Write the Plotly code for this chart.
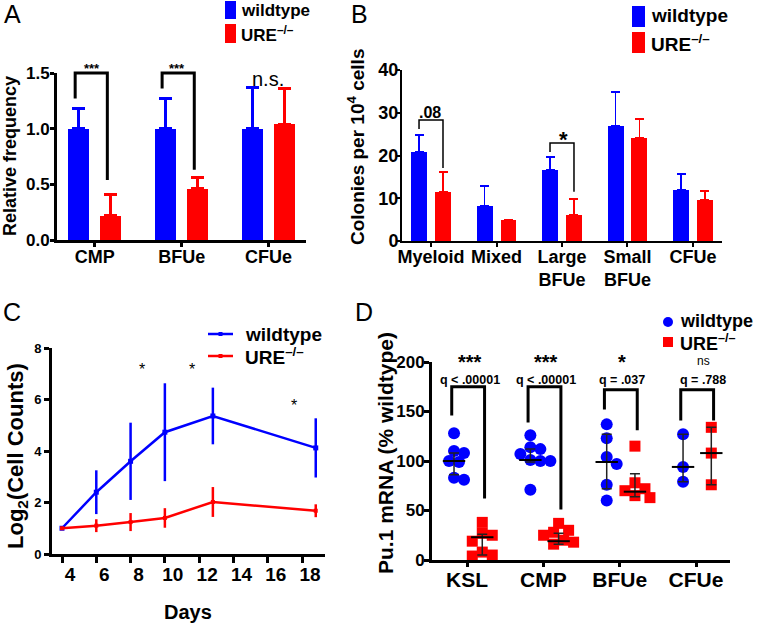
import plotly.graph_objects as go

W, H = 762, 625
BLUE = "#0000ff"
RED = "#ff0000"
FONT = "Liberation Sans"

# ---------------- data ----------------
# A: relative frequency
a_cats = ["CMP", "BFUe", "CFUe"]
a_wt = [1.0, 1.0, 1.0]
a_wt_err = [0.18, 0.27, 0.37]
a_ure = [0.22, 0.46, 1.04]
a_ure_err = [0.19, 0.10, 0.32]

# B: colonies per 10^4 cells
b_cats = ["Myeloid", "Mixed", "Large<br>BFUe", "Small<br>BFUe", "CFUe"]
b_wt = [20.8, 8.2, 16.6, 26.9, 11.9]
b_wt_err = [4.0, 4.7, 3.0, 8.0, 3.8]
b_ure = [11.5, 4.9, 6.1, 24.1, 9.6]
b_ure_err = [4.6, 0.15, 3.7, 4.4, 2.1]

# C: log2 cell counts over days
c_wt_days = [4, 6, 8, 10, 12.8, 18.8]
c_wt = [1.0, 2.4, 3.6, 4.73, 5.36, 4.12]
c_wt_err = [0.0, 0.85, 1.5, 1.9, 1.1, 1.15]
c_ure_days = [4, 6, 8, 10, 12.8, 18.8]
c_ure = [1.0, 1.1, 1.24, 1.4, 2.02, 1.68]
c_ure_err = [0.0, 0.25, 0.35, 0.38, 0.58, 0.25]

# D: Pu.1 mRNA (% wildtype)
d_cats = ["KSL", "CMP", "BFUe", "CFUe"]
d_wt_pts = [[128, 110, 108, 100, 99, 83, 81],
            [126, 114, 112, 107, 101, 100, 100, 71],
            [137, 123, 104, 97, 76, 60],
            [127, 94, 79]]
d_wt_mid = [100, 101, 99, 94]
d_wt_lo = [86, 99, 72, 79]
d_wt_hi = [108, 112, 127, 127]
d_ure_pts = [[38, 27, 25, 19, 8, 5, 4],
             [37, 30, 28, 25, 20, 18, 16],
             [115, 78, 72, 70, 65, 63],
             [134, 108, 76]]
d_ure_mid = [23, 19, 69, 108]
d_ure_lo = [5, 16, 64, 76]
d_ure_hi = [26, 27, 87, 134]
d_stars = ["***", "***", "*", "ns"]
d_q = ["q &lt; .00001", "q &lt; .00001", "q = .037", "q = .788"]

# ---------------- geometry (pixels of each plot area) ----------------
GEOM = {
    "A": dict(px=(57, 306), xr=(-0.434, 2.43), py=(240, 73), yr=(0, 1.5)),
    "B": dict(px=(402, 722), xr=(-0.443, 4.443), py=(241, 70), yr=(0, 40)),
    "C": dict(px=(52, 325), xr=(3.417, 19.34), py=(554, 348), yr=(0, 8)),
    "D": dict(px=(432, 730), xr=(-0.4585, 3.445), py=(560, 362), yr=(0, 200)),
}


def fx(p, v):
    g = GEOM[p]
    x0, x1 = g["px"]
    a, b = g["xr"]
    return (x0 + (v - a) / (b - a) * (x1 - x0)) / W


def fy(p, v):
    g = GEOM[p]
    y0, y1 = g["py"]
    a, b = g["yr"]
    return 1 - (y0 + (v - a) / (b - a) * (y1 - y0)) / H


def px(x):
    return x / W


def py(y):
    return 1 - y / H


def swarm(vals, ky, dmin=10, step=5):
    # simple beeswarm: pixel offsets so markers do not pile up
    placed, offs = [], []
    cands = [0]
    for j in range(1, 8):
        cands += [j * step, -j * step]
    for v in vals:
        y = v * ky
        for c in cands:
            if all((c - a) ** 2 + (y - b) ** 2 >= dmin ** 2 for a, b in placed):
                break
        placed.append((c, y))
        offs.append(c)
    return offs


fig = go.Figure()

# ---------------- panel A ----------------
A_OFF, A_W = 0.185, 0.24
fig.add_trace(go.Bar(x=[i - A_OFF for i in range(3)], y=a_wt, width=A_W, marker=dict(color=BLUE, line_width=0),
                     error_y=dict(type="data", symmetric=False, array=a_wt_err, arrayminus=[0] * 3,
                                  color=BLUE, thickness=3, width=6.5),
                     xaxis="x", yaxis="y", showlegend=False))
fig.add_trace(go.Bar(x=[i + A_OFF for i in range(3)], y=a_ure, width=A_W, marker=dict(color=RED, line_width=0),
                     error_y=dict(type="data", symmetric=False, array=a_ure_err, arrayminus=[0] * 3,
                                  color=RED, thickness=3, width=6.5),
                     xaxis="x", yaxis="y", showlegend=False))

# ---------------- panel B ----------------
B_OFF, B_W = 0.183, 0.244
fig.add_trace(go.Bar(x=[i - B_OFF for i in range(5)], y=b_wt, width=B_W, marker=dict(color=BLUE, line_width=0),
                     error_y=dict(type="data", symmetric=False, array=b_wt_err, arrayminus=[0] * 5,
                                  color=BLUE, thickness=1.5, width=4.5),
                     xaxis="x2", yaxis="y2", showlegend=False))
fig.add_trace(go.Bar(x=[i + B_OFF for i in range(5)], y=b_ure, width=B_W, marker=dict(color=RED, line_width=0),
                     error_y=dict(type="data", symmetric=False, array=b_ure_err, arrayminus=[0] * 5,
                                  color=RED, thickness=1.5, width=4.5),
                     xaxis="x2", yaxis="y2", showlegend=False))

# ---------------- panel C ----------------
fig.add_trace(go.Scatter(x=c_wt_days, y=c_wt, mode="lines+markers",
                         line=dict(color=BLUE, width=2.5), marker=dict(symbol="square", size=5, color=BLUE),
                         error_y=dict(type="data", array=c_wt_err, color=BLUE, thickness=2.5, width=0),
                         xaxis="x3", yaxis="y3", showlegend=False))
fig.add_trace(go.Scatter(x=c_ure_days, y=c_ure, mode="lines+markers",
                         line=dict(color=RED, width=2.5), marker=dict(symbol="square", size=4, color=RED),
                         error_y=dict(type="data", array=c_ure_err, color=RED, thickness=2.5, width=0),
                         xaxis="x3", yaxis="y3", showlegend=False))

# ---------------- panel D ----------------
D_WT, D_URE = -0.17, 0.2
kx = (GEOM["D"]["px"][1] - GEOM["D"]["px"][0]) / (GEOM["D"]["xr"][1] - GEOM["D"]["xr"][0])
ky = (GEOM["D"]["py"][0] - GEOM["D"]["py"][1]) / 200
for pts_all, off, color, sym, size in [(d_wt_pts, D_WT, BLUE, "circle", 12), (d_ure_pts, D_URE, RED, "square", 11)]:
    xs, ys = [], []
    for i, pts in enumerate(pts_all):
        for o, v in zip(swarm(pts, ky), pts):
            xs.append(i + off + o / kx)
            ys.append(v)
    fig.add_trace(go.Scatter(x=xs, y=ys, mode="markers", marker=dict(symbol=sym, size=size, color=color),
                             xaxis="x4", yaxis="y4", showlegend=False))
for mid, lo, hi, off in [(d_wt_mid, d_wt_lo, d_wt_hi, D_WT), (d_ure_mid, d_ure_lo, d_ure_hi, D_URE)]:
    fig.add_trace(go.Scatter(x=[i + off for i in range(4)], y=mid, mode="markers",
                             marker=dict(symbol="line-ew", size=16, line=dict(color="black", width=2)),
                             error_y=dict(type="data", symmetric=False,
                                          array=[h - m for h, m in zip(hi, mid)],
                                          arrayminus=[m - l for m, l in zip(mid, lo)],
                                          color="#222222", thickness=1.5, width=5),
                             xaxis="x4", yaxis="y4", showlegend=False))


# ---------------- axes ----------------
def bold(size):
    return dict(family=FONT, size=size, color="black", weight="bold")


def axis(p, letter, **kw):
    g = GEOM[p]
    if letter == "x":
        dom = [g["px"][0] / W, g["px"][1] / W]
        rng = list(g["xr"])
    else:
        dom = [1 - g["py"][0] / H, 1 - g["py"][1] / H]
        rng = list(g["yr"])
    d = dict(domain=dom, range=rng, showgrid=False, zeroline=False, showline=True,
             linecolor="black", ticks="outside", tickcolor="black", fixedrange=True)
    d.update(kw)
    return d


layout = dict(
    width=W, height=H, margin=dict(l=0, r=0, t=0, b=0, autoexpand=False),
    paper_bgcolor="white", plot_bgcolor="white",
    font=dict(family=FONT, color="black"), bargap=0, barmode="overlay",
    xaxis=axis("A", "x", anchor="y", tickvals=[0, 1, 2], ticktext=a_cats, tickfont=bold(18),
               linewidth=3, tickwidth=3, ticklen=4, ticklabelstandoff=-6),
    yaxis=axis("A", "y", anchor="x", tickvals=[0, 0.5, 1.0, 1.5], ticktext=["0.0", "0.5", "1.0", "1.5"],
               tickfont=bold(17), linewidth=3, tickwidth=3, ticklen=4, ticklabelstandoff=-3),
    xaxis2=axis("B", "x", anchor="y2", tickvals=list(range(5)), ticktext=b_cats, tickfont=bold(18),
                linewidth=2, tickwidth=2, ticklen=4, ticklabelstandoff=-6),
    yaxis2=axis("B", "y", anchor="x2", tickvals=[0, 10, 20, 30, 40], tickfont=bold(18),
                linewidth=2, tickwidth=2, ticklen=4, ticklabelstandoff=-6),
    xaxis3=axis("C", "x", anchor="y3", tickvals=list(range(4, 19, 2)), tickfont=bold(19),
                linewidth=3, tickwidth=3, ticklen=6, ticklabelstandoff=-5, ticklabelshift=8),
    yaxis3=axis("C", "y", anchor="x3", tickvals=[0, 2, 4, 6, 8], tickfont=bold(13),
                linewidth=3, tickwidth=3, ticklen=5),
    xaxis4=axis("D", "x", anchor="y4", tickvals=[0, 1, 2, 3], ticktext=d_cats, tickfont=bold(21),
                linewidth=3, tickwidth=3, ticklen=4, ticklabelstandoff=-5),
    yaxis4=axis("D", "y", anchor="x4", tickvals=[0, 50, 100, 150, 200], tickfont=bold(17),
                linewidth=3, tickwidth=3, ticklen=5, ticklabelstandoff=-4),
)
fig.update_layout(**layout)

shapes = []
ann = []


def text(x, y, s, size, weight="bold", xanchor="center", angle=0):
    ann.append(dict(x=px(x), y=py(y), xref="paper", yref="paper", text=s, showarrow=False,
                    xanchor=xanchor, yanchor="middle", textangle=angle,
                    font=dict(family=FONT, size=size, color="black", weight=weight)))


def bracket(p, x0, x1, y0, y1, top, width):
    path = "M{},{} L{},{} L{},{} L{},{}".format(fx(p, x0), fy(p, y0), fx(p, x0), fy(p, top),
                                                fx(p, x1), fy(p, top), fx(p, x1), fy(p, y1))
    shapes.append(dict(type="path", path=path, xref="paper", yref="paper",
                       line=dict(color="black", width=width)))


# significance brackets
bracket("A", -A_OFF - 0.04, A_OFF - 0.04, 1.27, 0.54, 1.5, 3)
bracket("A", 1 - A_OFF - 0.04, 1 + A_OFF - 0.04, 1.36, 0.63, 1.5, 3)
bracket("B", -B_OFF, B_OFF, 26.2, 17.1, 28.3, 1.5)
bracket("B", 2 - B_OFF, 2 + B_OFF, 20.8, 11.5, 22.9, 1.5)
bracket("D", D_WT - 0.03, D_URE + 0.03, 146, 62, 175, 3)
bracket("D", 1 + D_WT - 0.03, 1 + D_URE + 0.03, 139, 51, 175, 3)
bracket("D", 2 + D_WT - 0.03, 2 + D_URE + 0.03, 152, 131, 172, 3)
bracket("D", 3 + D_WT - 0.03, 3 + D_URE + 0.03, 141, 141, 172, 3)

# significance labels
text(92, 68, "***", 13)
text(177, 68, "***", 13)
text(268, 79, "n.s.", 20, weight="normal")
text(430, 113, ".08", 16)
text(563, 140, "*", 22)
text(142, 369, "*", 16, weight="normal")
text(192, 369, "*", 16, weight="normal")
text(294, 405, "*", 16, weight="normal")
for xc, star, q in zip([470, 546, 622, 703], d_stars, d_q):
    if star == "ns":
        text(xc, 361, star, 12, weight="normal")
    else:
        text(xc, 361.5, star, 20)
    text(xc, 379.5, q, 12.5)

# panel letters
text(12, 14, "A", 25, weight="normal")
text(359, 14, "B", 25, weight="normal")
text(12, 312, "C", 25, weight="normal")
text(364, 312, "D", 25, weight="normal")

# axis titles
text(10, 156, "Relative frequency", 18, angle=-90)
text(356, 147, "Colonies per 10<sup>4</sup> cells", 19, angle=-90)
text(17, 456, "Log<sub>2</sub>(Cell Counts)", 22, angle=-90)
text(188, 612, "Days", 20)
text(385, 453, "Pu.1 mRNA (% wildtype)", 21, angle=-90)

# legends
ure = "URE<sup>\u2013/\u2013</sup>"
# A
shapes.append(dict(type="rect", xref="paper", yref="paper", x0=px(225), x1=px(236), y0=py(19), y1=py(1),
                   fillcolor=BLUE, line_width=0))
shapes.append(dict(type="rect", xref="paper", yref="paper", x0=px(225), x1=px(236), y0=py(43), y1=py(24),
                   fillcolor=RED, line_width=0))
text(239, 10, "wildtype", 17, xanchor="left")
text(239, 34, ure, 17, xanchor="left")
# B
shapes.append(dict(type="rect", xref="paper", yref="paper", x0=px(632), x1=px(645), y0=py(27), y1=py(6),
                   fillcolor=BLUE, line_width=0))
shapes.append(dict(type="rect", xref="paper", yref="paper", x0=px(632), x1=px(645), y0=py(53), y1=py(32),
                   fillcolor=RED, line_width=0))
text(649, 16, "wildtype", 19, xanchor="left")
text(649, 43, ure, 19, xanchor="left")
# C
for yy, col in [(334, BLUE), (356, RED)]:
    shapes.append(dict(type="line", xref="paper", yref="paper", x0=px(208), x1=px(233), y0=py(yy), y1=py(yy),
                       line=dict(color=col, width=2.5)))
    shapes.append(dict(type="rect", xref="paper", yref="paper", x0=px(218.5), x1=px(222.5), y0=py(yy + 2),
                       y1=py(yy - 2), fillcolor=col, line_width=0))
text(243, 334, "wildtype", 19, xanchor="left")
text(243, 356, ure, 19, xanchor="left")
# D
shapes.append(dict(type="circle", xref="paper", yref="paper", x0=px(663), x1=px(673), y0=py(327), y1=py(317),
                   fillcolor=BLUE, line_width=0))
shapes.append(dict(type="rect", xref="paper", yref="paper", x0=px(663), x1=px(673), y0=py(347), y1=py(337),
                   fillcolor=RED, line_width=0))
text(678, 321, "wildtype", 18, xanchor="left")
text(678, 342, ure, 18, xanchor="left")

fig.update_layout(shapes=shapes, annotations=ann)

# the page body has a default 8px margin; drop it so the figure sits at the window origin
fig.write_html("out.html", config={"displayModeBar": False},
               post_script="document.body.style.margin='0';document.body.style.overflow='hidden';")
